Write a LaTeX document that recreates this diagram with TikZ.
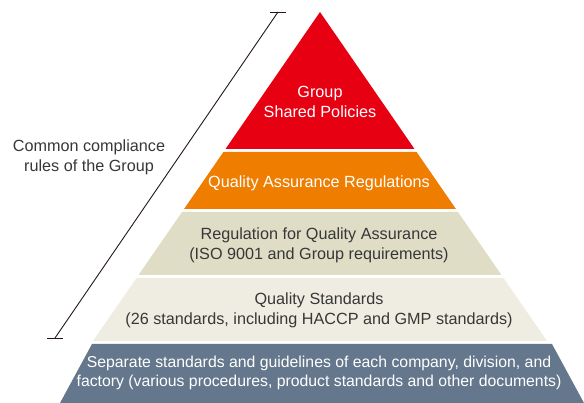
\documentclass[tikz,border=0pt]{standalone}
\usepackage{fontspec}
\setmainfont{Liberation Sans}

\definecolor{qared}{RGB}{230,0,18}
\definecolor{qaorange}{RGB}{238,125,0}
\definecolor{qadark}{RGB}{224,221,199}
\definecolor{qalight}{RGB}{239,237,226}
\definecolor{qablue}{RGB}{100,119,140}
\definecolor{txtgray}{RGB}{55,55,55}
\definecolor{inkblack}{RGB}{35,24,21}

\tikzset{
  wtxt/.style={text=white, align=center, inner sep=0pt,
    font=\fontsize{16.2}{19.8}\selectfont},
  dtxt/.style={wtxt, text=txtgray},
  bracket/.style={draw=inkblack, line width=0.9pt},
}

\begin{document}
\begin{tikzpicture}[x=1pt, y=-1pt]
  \useasboundingbox (0,0) rectangle (584,403);

  % pyramid, top down
  \fill[qared] (320,12) -- (225.5,149) -- (414.5,149) -- cycle;
  \foreach \t/\b/\col in {152/209/qaorange, 212/275/qadark, 278/341/qalight}
    \fill[\col] ({320-0.69*(\t-12)},\t) -- ({320+0.69*(\t-12)},\t)
      -- ({320+0.69*(\b-12)},\b) -- ({320-0.69*(\b-12)},\b) -- cycle;
  \fill[qablue] (92,344) -- (552,344) -- (584,403) -- (60,403) -- cycle;

  \node[wtxt] (policies) at (320,102) {Group\\Shared Policies};
  \node[wtxt] (qaregs) at (319,183) {Quality Assurance Regulations};
  \node[dtxt] (qareg) at (319,245) {Regulation for Quality Assurance\\(ISO 9001 and Group requirements)};
  \node[dtxt] (qastd) at (319,310) {Quality Standards\\(26 standards, including HACCP and GMP standards)};
  \node[wtxt, font=\fontsize{15.8}{19.8}\selectfont] (local) at (319,373)
    {Separate standards and guidelines of each company, division, and\\factory (various procedures, product standards and other documents)};

  % bracket along the left side
  \coordinate (rtop) at (278,12);
  \coordinate (rbot) at (55,338);
  \draw[bracket] (rtop) -- (rbot);
  \draw[bracket] ([xshift=-8pt]rtop) -- ([xshift=8pt]rtop);
  \draw[bracket] ([xshift=-8pt]rbot) -- ([xshift=8pt]rbot);
  \node[dtxt] (rules) at (89,157) {Common compliance\\rules of the Group};
\end{tikzpicture}
\end{document}
